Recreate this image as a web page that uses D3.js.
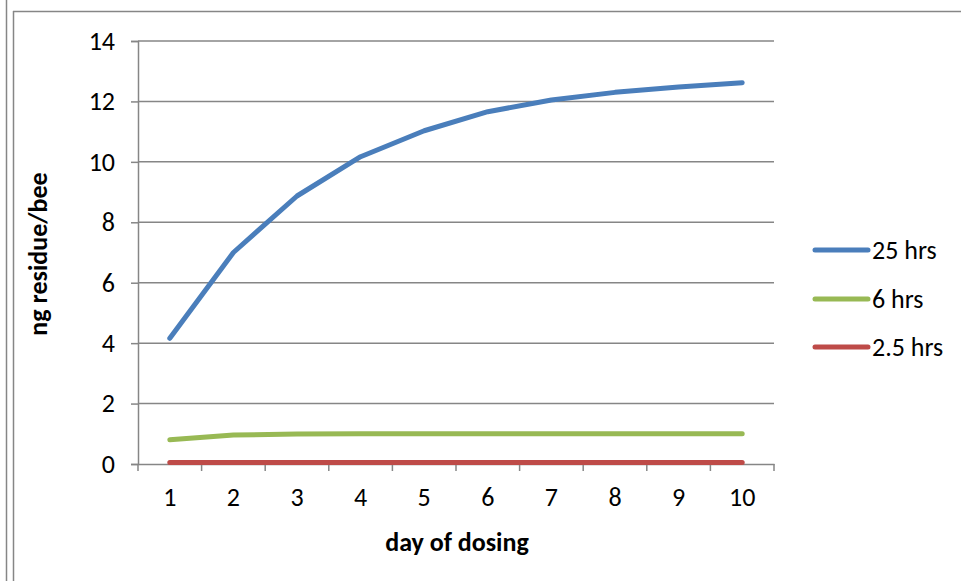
<!DOCTYPE html>
<html><head><meta charset="utf-8">
<script src="https://cdn.jsdelivr.net/npm/d3@7"></script>
<style>body{margin:0;background:#fff}svg{display:block}</style>
</head><body>
<svg id="c" width="961" height="581"></svg>
<script>
const days = [1,2,3,4,5,6,7,8,9,10];
const yTicks = [0,2,4,6,8,10,12,14];
const series25 = [4.16,7.0,8.87,10.17,11.03,11.66,12.05,12.3,12.48,12.62];
const series6 = [0.8,0.96,0.99,1.0,1.0,1.0,1.0,1.0,1.0,1.0];
const series25h = [0.05,0.05,0.05,0.05,0.05,0.05,0.05,0.05,0.05,0.05];
const seriesNames = ["25 hrs","6 hrs","2.5 hrs"];
const seriesColors = ["#4A7EBB","#98B954","#BE4B48"];
const seriesData = [series25, series6, series25h];

const svg = d3.select("#c");
const font = "Carlito, Calibri, Lato, 'Open Sans', sans-serif";
const L=138, R=774, T=41, B=464;
const x = d3.scaleBand().domain(days).range([L,R]);
const y = d3.scaleLinear().domain([0,14]).range([B,T]);
const grey = "#868686";

// frame lines
svg.append("line").attr("x1",6.5).attr("x2",6.5).attr("y1",0).attr("y2",581).attr("stroke",grey).attr("stroke-width",1.5);
svg.append("line").attr("x1",13.5).attr("x2",13.5).attr("y1",11).attr("y2",581).attr("stroke",grey).attr("stroke-width",1.5);
svg.append("line").attr("x1",13).attr("x2",961).attr("y1",11.5).attr("y2",11.5).attr("stroke",grey).attr("stroke-width",1.5);

// gridlines
svg.append("g").selectAll("line").data(yTicks.filter(d=>d>0)).join("line")
  .attr("x1",L).attr("x2",R).attr("y1",d=>y(d)).attr("y2",d=>y(d))
  .attr("stroke",grey).attr("stroke-width",1.5);

// y axis
const yAxis = svg.append("g").attr("transform",`translate(${L},0)`)
  .call(d3.axisLeft(y).tickValues(yTicks).tickSize(7).tickPadding(16));
yAxis.select(".domain").attr("stroke",grey).attr("stroke-width",1.5);
yAxis.selectAll(".tick line").attr("stroke",grey).attr("stroke-width",1.5);
yAxis.selectAll("text").attr("font-family",font).attr("font-size",26).attr("fill","#000");

// x axis
const xAxis = svg.append("g").attr("transform",`translate(0,${B})`)
  .call(d3.axisBottom(x).tickSize(0).tickPadding(24));
xAxis.select(".domain").attr("stroke",grey).attr("stroke-width",1.5);
xAxis.selectAll(".tick line").remove();
xAxis.selectAll("text").attr("font-family",font).attr("font-size",26).attr("fill","#000");
const bounds = days.map(d=>x(d)).concat([R]);
xAxis.selectAll(".bt").data(bounds).join("line").attr("class","bt")
  .attr("x1",d=>d).attr("x2",d=>d).attr("y1",0).attr("y2",7)
  .attr("stroke",grey).attr("stroke-width",1.5);

// lines
const line = d3.line().x((d,i)=>x(days[i])+x.bandwidth()/2).y(d=>y(d));
seriesData.forEach((s,k)=>{
  svg.append("path").datum(s).attr("d",line).attr("fill","none")
    .attr("stroke",seriesColors[k]).attr("stroke-width",5)
    .attr("stroke-linecap","round").attr("stroke-linejoin","round");
});

// legend
const legY = [250,299,347];
seriesNames.forEach((n,k)=>{
  svg.append("line").attr("x1",815).attr("x2",868).attr("y1",legY[k]).attr("y2",legY[k])
    .attr("stroke",seriesColors[k]).attr("stroke-width",5).attr("stroke-linecap","round");
  svg.append("text").attr("x",872).attr("y",legY[k]+9).text(n)
    .attr("font-family",font).attr("font-size",26).attr("fill","#000");
});

// axis titles
svg.append("text").attr("x",457).attr("y",551).attr("text-anchor","middle")
  .attr("font-family",font).attr("font-size",26).attr("font-weight","bold").text("day of dosing");
svg.append("text").attr("transform","translate(47,254) rotate(-90)").attr("text-anchor","middle")
  .attr("font-family",font).attr("font-size",26).attr("font-weight","bold").text("ng residue/bee");
</script>
</body></html>
